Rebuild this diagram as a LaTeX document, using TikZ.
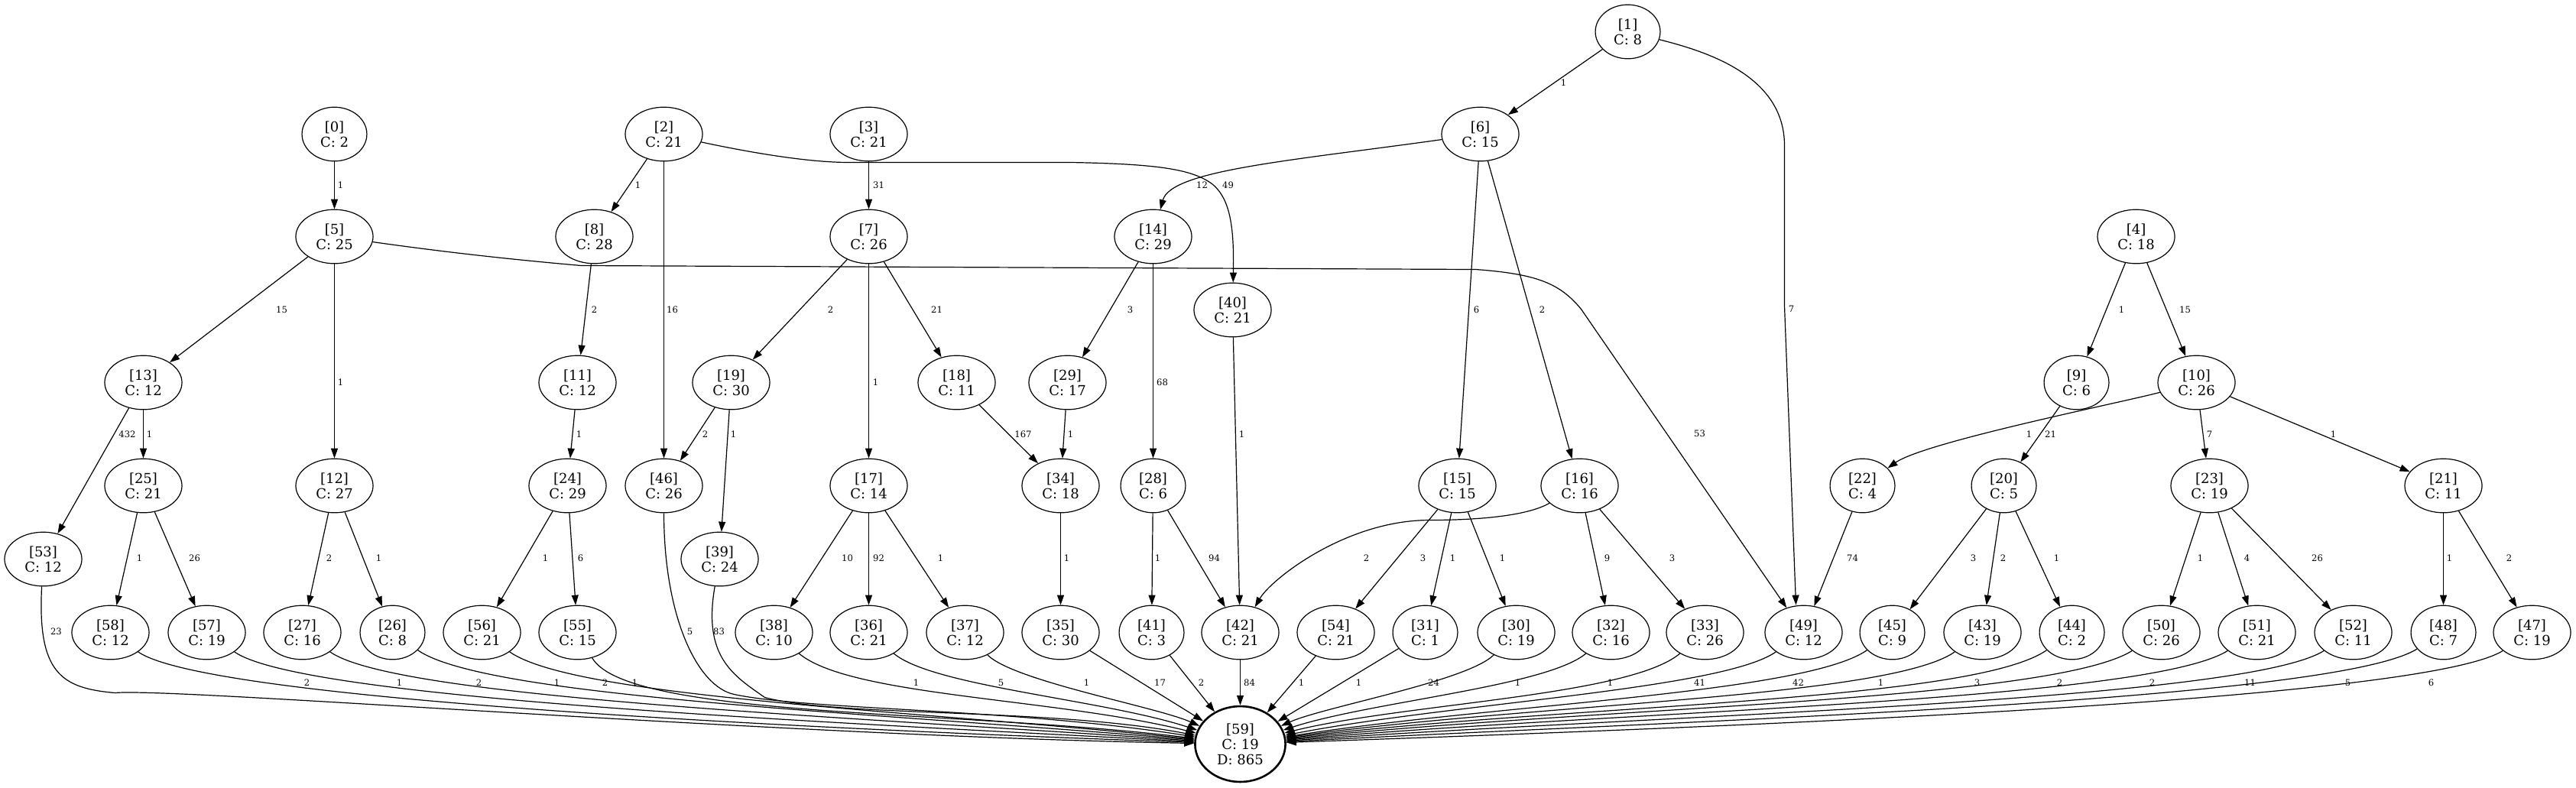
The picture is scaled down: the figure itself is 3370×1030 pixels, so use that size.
\documentclass[tikz,border=0pt]{standalone}
\usepackage{fontspec}
\setmainfont{DejaVu Serif}
\usetikzlibrary{arrows.meta,shapes.geometric}

\begin{document}
\begin{tikzpicture}[x=0.5pt,y=-0.5pt,
  nd/.style={draw,ellipse,line width=0.6pt,align=center,inner xsep=5.75pt,inner ysep=4pt,font=\fontsize{9}{10}\selectfont},
  el/.style={font=\fontsize{5.8}{6}\selectfont,inner sep=0pt},
  ed/.style={line width=0.6pt,-{Triangle[length=6.5pt,width=4.5pt]}}]
\useasboundingbox (-0.5,-0.5) rectangle (3369.5,1029.5);
\foreach \n/\x/\y/\c in {1/2129/41/8, 0/437/175/2, 2/868/175/21, 3/1136/175/21, 6/1936/175/15,
    5/437/309/25, 8/777/309/28, 7/1136/309/26, 14/1508/309/29, 4/2794/309/18, 40/1612/405/21,
    13/187/500/12, 11/755/500/12, 19/956/500/30, 18/1251/500/11, 29/1396/500/17, 9/2716/500/6, 10/2873/500/26,
    25/187/635/21, 12/437/635/27, 24/742/635/29, 46/868/635/26, 17/1136/635/14, 34/1387/635/18, 28/1508/635/6,
    15/1906/635/15, 16/2066/635/16, 22/2436/635/4, 20/2621/635/5, 23/2890/635/19, 21/3196/635/11,
    53/56/731/12, 39/941/731/24,
    58/144/827/12, 57/270/827/19, 27/395/827/16, 26/513/827/8, 56/630/827/21, 55/755/827/15, 38/1012/827/10,
    36/1136/827/21, 37/1262/827/12, 35/1387/827/30, 41/1506/827/3, 42/1622/827/21, 54/1747/827/21, 31/1864/827/1,
    30/1983/827/19, 32/2107/827/16, 33/2230/827/26, 49/2359/827/12, 45/2475/827/9, 43/2593/827/19, 44/2710/827/2,
    50/2827/827/26, 51/2952/827/21, 52/3078/827/11, 48/3196/827/7, 47/3312/827/19}
  \node[nd] (n\n) at (\x,\y) {[\n]\\C: \c};
\node[nd,line width=1.3pt] (n59) at (1622,973) {[59]\\C: 19\\D: 865};

\foreach \a/\b/\lx/\ly/\t in {0/5/445/242/1, 2/8/834/242/1, 2/46/879/405/16, 3/7/1149/242/31, 1/6/2045/108/1,
    6/15/1931/405/6, 6/16/2017/405/2, 5/13/368/405/15, 5/12/445/500/1, 8/11/777/405/2, 7/19/1086/405/2,
    7/17/1145/500/1, 7/18/1225/405/21, 14/29/1478/405/3, 14/28/1520/500/68, 4/9/2775/405/1, 4/10/2858/405/15,
    40/42/1624/568/1, 13/53/166/568/432, 13/25/195/568/1, 11/24/757/568/1, 19/46/922/568/2, 19/39/959/568/1,
    18/34/1338/568/167, 29/34/1400/568/1, 9/20/2682/568/21, 10/23/2890/568/7, 10/21/3052/568/1,
    25/58/182/730/1, 25/57/254/730/26, 12/27/430/730/2, 12/26/495/730/1, 24/56/713/730/1, 24/55/759/730/6,
    17/38/1108/730/10, 17/36/1149/730/92, 17/37/1230/730/1, 34/35/1395/730/1, 28/41/1514/730/1, 28/42/1588/730/94,
    15/54/1861/730/3, 15/31/1900/730/1, 15/30/1965/730/1, 16/32/2102/730/9, 16/33/2187/730/3, 22/49/2423/730/74,
    20/45/2581/730/3, 20/43/2620/730/2, 20/44/2690/730/1, 23/50/2878/730/1, 23/51/2939/730/4, 23/52/3031/730/26,
    21/48/3204/730/1, 21/47/3282/730/2,
    35/59/1517/893/17, 41/59/1571/893/2, 42/59/1634/893/84, 54/59/1702/893/1, 31/59/1777/893/1}
  \draw[ed] (n\a) -- (n\b) node[el] at (\lx,\ly) {\t};

\draw[ed] (n2) .. controls +(12:100) and +(180:60) .. (1110,212) -- (1400,212) .. controls (1520,214) and (1560,222) .. (1585,240) .. controls (1610,260) and (1614,300) .. (n40) node[el] at (1606,242) {49};
\draw[ed] (n1) .. controls +(14:110) and +(-90:90) .. (2334,190) -- (2334,400) -- ([xshift=-5pt]n49.north) node[el] at (2343,404) {7};
\draw[ed] (n6) .. controls +(172:250) and +(-75:90) .. (n14) node[el] at (1572,242) {12};
\draw[ed] (n5) .. controls +(8:120) and +(185:120) .. (760,347) -- (1930,352) .. controls (2010,358) and (2040,370) .. (2068,404) -- (n49) node[el] at (2223,567) {53};
\draw[ed] (n10) .. controls +(165:100) and +(-35:100) .. (n22) node[el] at (2654,568) {1};
\draw[ed] (n16) .. controls +(150:80) and +(0:60) .. (1870,680) .. controls +(180:110) and +(-60:80) .. (n42) node[el] at (1787,730) {2};

\draw[ed] (n53) .. controls +(93:150) and +(185:70) .. (150,906) .. controls +(-5:80) and +(181:600) .. (n59) node[el] at (73,826) {23};
\draw[ed] (n46) .. controls +(90:170) and +(192:50) .. (960,908) .. controls +(12:100) and +(189:300) .. (n59) node[el] at (902,826) {5};
\draw[ed] (n39) .. controls +(100:130) and +(215:50) .. (1000,912) .. controls +(15:100) and +(191:250) .. (n59) node[el] at (940,826) {83};
\foreach \s/\a/\d/\b/\e/\lx/\t in {58/35/150/182/620/401/2, 57/35/150/183/570/522/1, 27/35/150/184/520/626/2,
    26/35/150/185/470/728/1, 56/35/150/186/420/791/2, 55/60/130/187/370/830/1, 38/40/130/194/250/1198/1,
    36/40/110/198/190/1309/5, 37/45/90/204/120/1421/1,
    30/135/90/-24/120/1875/24, 32/140/110/-18/180/1985/1, 33/140/130/-14/220/2106/1, 49/145/130/-11/280/2223/41,
    45/145/140/-9/330/2352/42, 43/145/150/-8/380/2460/1, 44/145/160/-7/420/2586/3, 50/148/170/-6/460/2694/2,
    51/148/170/-5/500/2815/2, 52/148/170/-4/540/2943/11, 48/148/170/-3/580/3071/5, 47/148/170/-2/620/3180/6}
  \draw[ed] (n\s) .. controls +(\a:\d) and +(\b:\e) .. (n59) node[el] at (\lx,893) {\t};
\end{tikzpicture}
\end{document}
